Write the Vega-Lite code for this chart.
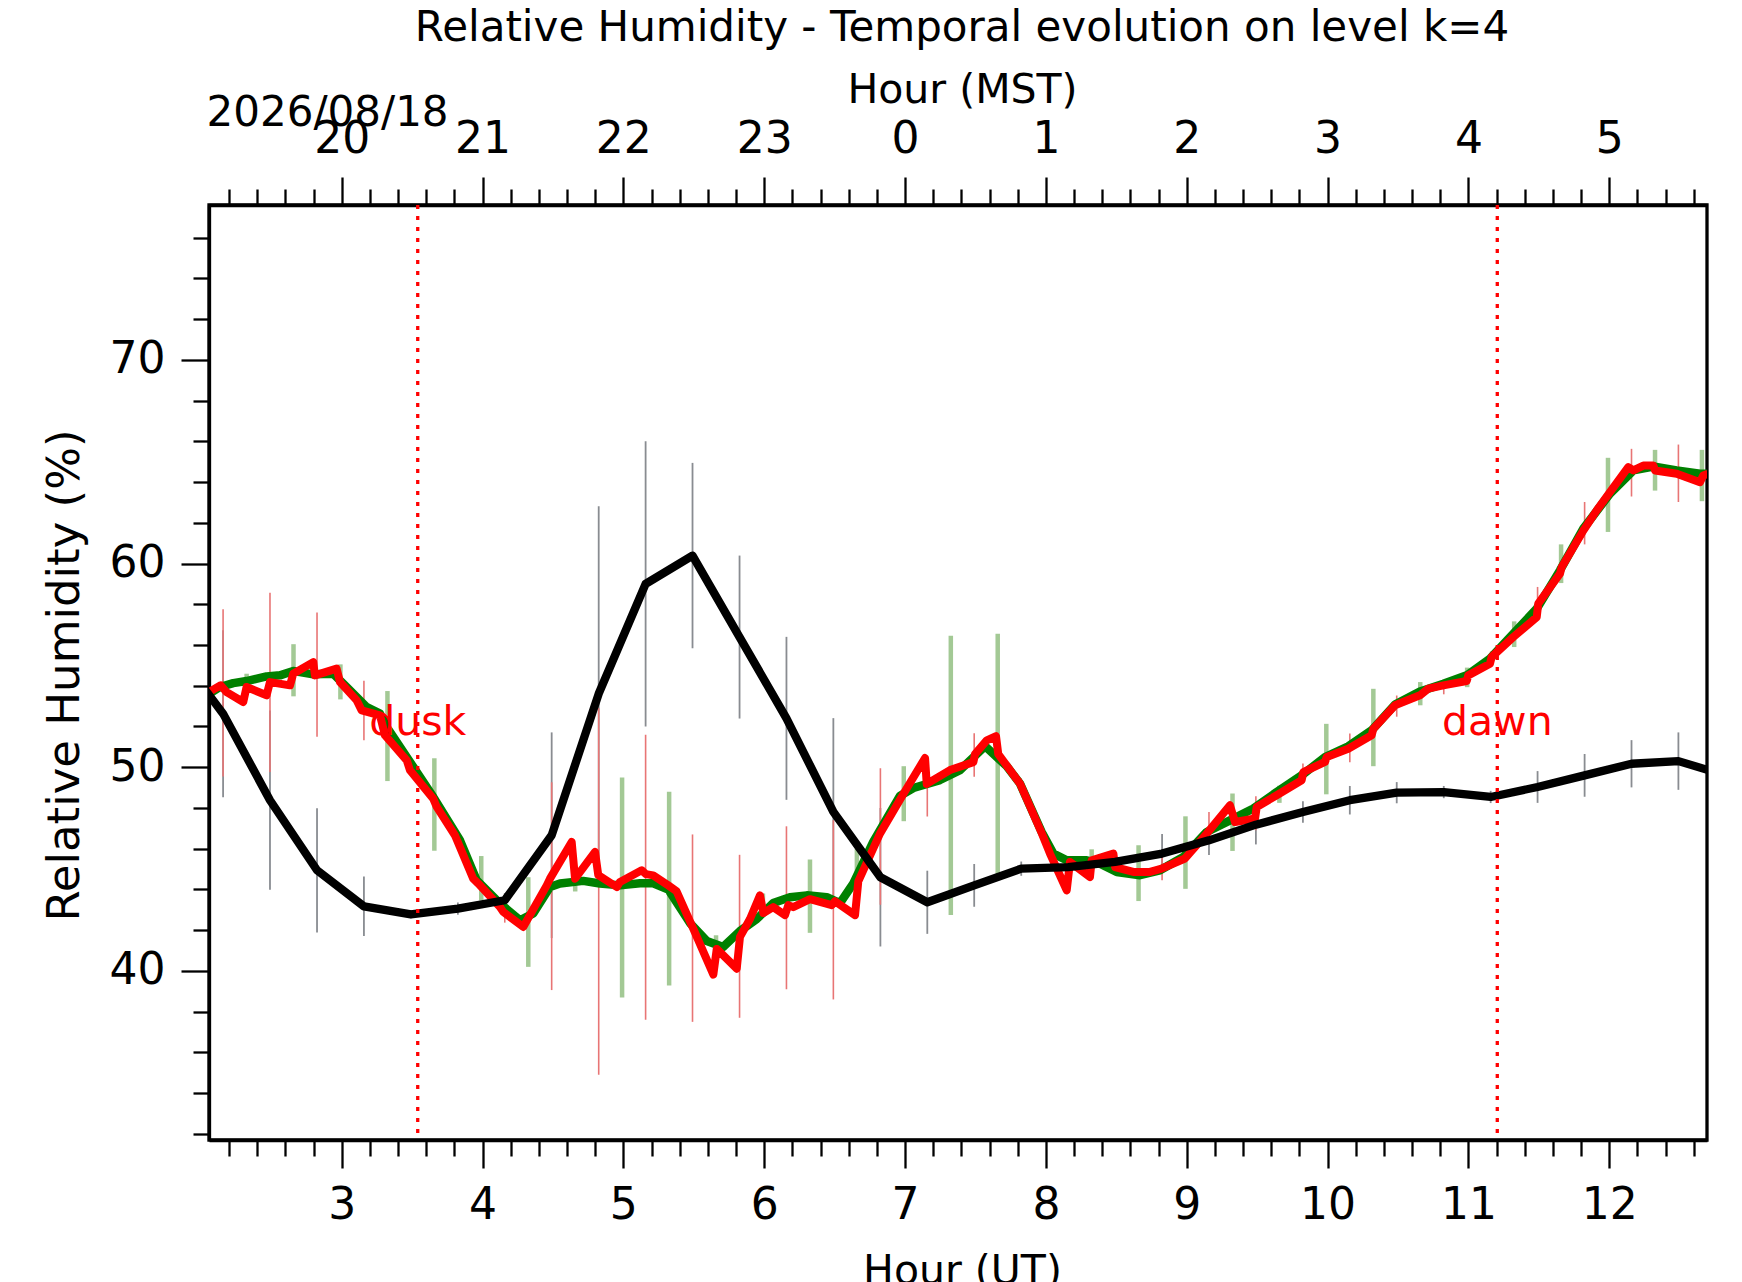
{
  "$schema": "https://vega.github.io/schema/vega-lite/v6.json",
  "width": 1498,
  "height": 935,
  "autosize": {"type": "none"},
  "padding": {"left": 209, "top": 205, "right": 35, "bottom": 142},
  "background": "white",
  "title": {
    "text": "Relative Humidity - Temporal evolution on level k=4",
    "font": "DejaVu Sans",
    "fontSize": 42,
    "fontWeight": "normal",
    "color": "black",
    "anchor": "middle",
    "baseline": "alphabetic",
    "offset": -14,
    "dx": 4
  },
  "config": {
    "view": {"stroke": "black", "strokeWidth": 3.3},
    "axis": {
      "grid": false,
      "labelFont": "DejaVu Sans",
      "titleFont": "DejaVu Sans",
      "labelColor": "black",
      "titleColor": "black",
      "titleFontWeight": "normal",
      "tickColor": "black",
      "tickWidth": 2.3,
      "domainColor": "black",
      "domainWidth": 3.3,
      "labelFontSize": 44,
      "labelOverlap": false,
      "labelFlush": false
    }
  },
  "datasets": {
    "model": [
      {"ut": 1.825, "rh": 55.7}, {"ut": 2.158, "rh": 52.63}, {"ut": 2.491, "rh": 48.38},
      {"ut": 2.825, "rh": 44.94}, {"ut": 3.158, "rh": 43.17}, {"ut": 3.491, "rh": 42.78},
      {"ut": 3.825, "rh": 43.06}, {"ut": 4.158, "rh": 43.47}, {"ut": 4.491, "rh": 46.66},
      {"ut": 4.825, "rh": 53.61}, {"ut": 5.158, "rh": 59.0}, {"ut": 5.491, "rh": 60.39},
      {"ut": 5.825, "rh": 56.39}, {"ut": 6.158, "rh": 52.4}, {"ut": 6.491, "rh": 47.81},
      {"ut": 6.825, "rh": 44.6}, {"ut": 7.158, "rh": 43.37}, {"ut": 7.491, "rh": 44.2},
      {"ut": 7.825, "rh": 45.02}, {"ut": 8.158, "rh": 45.1}, {"ut": 8.491, "rh": 45.35},
      {"ut": 8.825, "rh": 45.76}, {"ut": 9.158, "rh": 46.41}, {"ut": 9.491, "rh": 47.18},
      {"ut": 9.825, "rh": 47.8}, {"ut": 10.158, "rh": 48.38}, {"ut": 10.491, "rh": 48.75},
      {"ut": 10.825, "rh": 48.78}, {"ut": 11.158, "rh": 48.54}, {"ut": 11.491, "rh": 49.03},
      {"ut": 11.825, "rh": 49.6}, {"ut": 12.158, "rh": 50.17}, {"ut": 12.491, "rh": 50.3},
      {"ut": 12.825, "rh": 49.6}
    ],
    "model_err": [
      {"ut": 2.158, "lo": 48.53, "hi": 56.73}, {"ut": 2.491, "lo": 43.98, "hi": 52.78},
      {"ut": 2.825, "lo": 41.89, "hi": 47.99}, {"ut": 3.158, "lo": 41.71, "hi": 44.63},
      {"ut": 3.491, "lo": 42.58, "hi": 42.98}, {"ut": 3.825, "lo": 42.76, "hi": 43.36},
      {"ut": 4.158, "lo": 43.12, "hi": 43.82}, {"ut": 4.491, "lo": 41.61, "hi": 51.71},
      {"ut": 4.825, "lo": 44.41, "hi": 62.81}, {"ut": 5.158, "lo": 52.0, "hi": 66.0},
      {"ut": 5.491, "lo": 55.84, "hi": 64.94}, {"ut": 5.825, "lo": 52.39, "hi": 60.39},
      {"ut": 6.158, "lo": 48.4, "hi": 56.4}, {"ut": 6.491, "lo": 43.21, "hi": 52.41},
      {"ut": 6.825, "lo": 41.2, "hi": 48.0}, {"ut": 7.158, "lo": 41.82, "hi": 44.92},
      {"ut": 7.491, "lo": 43.15, "hi": 45.25}, {"ut": 7.825, "lo": 44.67, "hi": 45.37},
      {"ut": 8.158, "lo": 44.8, "hi": 45.4}, {"ut": 8.491, "lo": 44.95, "hi": 45.75},
      {"ut": 8.825, "lo": 44.8, "hi": 46.72}, {"ut": 9.158, "lo": 45.69, "hi": 47.13},
      {"ut": 9.491, "lo": 46.21, "hi": 48.15}, {"ut": 9.825, "lo": 47.27, "hi": 48.33},
      {"ut": 10.158, "lo": 47.68, "hi": 49.08}, {"ut": 10.491, "lo": 48.23, "hi": 49.27},
      {"ut": 10.825, "lo": 48.48, "hi": 49.08}, {"ut": 11.158, "lo": 48.24, "hi": 48.84},
      {"ut": 11.491, "lo": 48.25, "hi": 49.81}, {"ut": 11.825, "lo": 48.55, "hi": 50.65},
      {"ut": 12.158, "lo": 49.01, "hi": 51.33}, {"ut": 12.491, "lo": 48.89, "hi": 51.71}
    ],
    "obs_err": [
      {"ut": 2.158, "lo": 49.55, "hi": 57.75}, {"ut": 2.491, "lo": 49.77, "hi": 58.57},
      {"ut": 2.825, "lo": 51.49, "hi": 57.59}, {"ut": 3.158, "lo": 51.33, "hi": 54.25},
      {"ut": 3.491, "lo": 49.6, "hi": 50.0}, {"ut": 3.825, "lo": 46.1, "hi": 46.7},
      {"ut": 4.158, "lo": 42.37, "hi": 43.23}, {"ut": 4.491, "lo": 39.06, "hi": 49.26},
      {"ut": 4.825, "lo": 34.9, "hi": 52.9}, {"ut": 5.158, "lo": 37.6, "hi": 51.6},
      {"ut": 5.491, "lo": 37.5, "hi": 46.7}, {"ut": 5.825, "lo": 37.7, "hi": 45.7},
      {"ut": 6.158, "lo": 39.1, "hi": 47.1}, {"ut": 6.491, "lo": 38.6, "hi": 47.4},
      {"ut": 6.825, "lo": 43.25, "hi": 49.95}, {"ut": 7.158, "lo": 47.58, "hi": 50.02},
      {"ut": 7.491, "lo": 49.53, "hi": 51.67}, {"ut": 7.825, "lo": 48.75, "hi": 49.45},
      {"ut": 8.158, "lo": 44.3, "hi": 44.9}, {"ut": 8.491, "lo": 44.9, "hi": 45.7},
      {"ut": 8.825, "lo": 44.45, "hi": 45.59}, {"ut": 9.158, "lo": 46.5, "hi": 47.8},
      {"ut": 9.491, "lo": 46.91, "hi": 48.57}, {"ut": 9.825, "lo": 49.36, "hi": 50.18},
      {"ut": 10.158, "lo": 50.25, "hi": 51.65}, {"ut": 10.491, "lo": 52.48, "hi": 53.52},
      {"ut": 10.825, "lo": 53.58, "hi": 54.26}, {"ut": 11.158, "lo": 54.98, "hi": 55.68},
      {"ut": 11.491, "lo": 57.85, "hi": 58.85}, {"ut": 11.825, "lo": 60.94, "hi": 63.02},
      {"ut": 12.158, "lo": 63.29, "hi": 65.63}, {"ut": 12.491, "lo": 63.02, "hi": 65.84}
    ],
    "smooth_err": [
      {"ut": 2.325, "lo": 53.87, "hi": 54.59}, {"ut": 2.658, "lo": 53.48, "hi": 56.04},
      {"ut": 2.991, "lo": 53.33, "hi": 55.05}, {"ut": 3.325, "lo": 49.32, "hi": 53.74},
      {"ut": 3.658, "lo": 45.9, "hi": 50.44}, {"ut": 3.991, "lo": 43.46, "hi": 45.64},
      {"ut": 4.325, "lo": 40.2, "hi": 44.6}, {"ut": 4.658, "lo": 43.9, "hi": 44.7},
      {"ut": 4.991, "lo": 38.7, "hi": 49.5}, {"ut": 5.325, "lo": 39.29, "hi": 48.79},
      {"ut": 5.658, "lo": 41.05, "hi": 41.75}, {"ut": 5.991, "lo": 42.8, "hi": 43.8},
      {"ut": 6.325, "lo": 41.87, "hi": 45.47}, {"ut": 6.658, "lo": 44.0, "hi": 46.0},
      {"ut": 6.991, "lo": 47.35, "hi": 50.05}, {"ut": 7.325, "lo": 42.75, "hi": 56.45},
      {"ut": 7.658, "lo": 44.65, "hi": 56.55}, {"ut": 7.991, "lo": 46.3, "hi": 46.7},
      {"ut": 8.325, "lo": 44.69, "hi": 45.97}, {"ut": 8.658, "lo": 43.43, "hi": 46.17},
      {"ut": 8.991, "lo": 44.03, "hi": 47.59}, {"ut": 9.325, "lo": 45.89, "hi": 48.71},
      {"ut": 9.658, "lo": 48.25, "hi": 49.09}, {"ut": 9.991, "lo": 48.67, "hi": 52.13},
      {"ut": 10.325, "lo": 50.05, "hi": 53.85}, {"ut": 10.658, "lo": 53.04, "hi": 54.18},
      {"ut": 10.991, "lo": 53.93, "hi": 54.89}, {"ut": 11.325, "lo": 55.9, "hi": 57.16},
      {"ut": 11.658, "lo": 59.04, "hi": 60.94}, {"ut": 11.991, "lo": 61.55, "hi": 65.19},
      {"ut": 12.325, "lo": 63.58, "hi": 65.58}, {"ut": 12.658, "lo": 63.06, "hi": 65.58}
    ],
    "obs": [
      {"ut": 2.06, "rh": 53.7}, {"ut": 2.141, "rh": 54.02}, {"ut": 2.183, "rh": 53.69},
      {"ut": 2.301, "rh": 53.2}, {"ut": 2.325, "rh": 53.94}, {"ut": 2.467, "rh": 53.53},
      {"ut": 2.491, "rh": 54.18}, {"ut": 2.633, "rh": 54.02}, {"ut": 2.656, "rh": 54.59},
      {"ut": 2.798, "rh": 55.16}, {"ut": 2.81, "rh": 54.51}, {"ut": 2.964, "rh": 54.84},
      {"ut": 2.988, "rh": 54.18}, {"ut": 3.107, "rh": 53.28}, {"ut": 3.142, "rh": 52.79},
      {"ut": 3.272, "rh": 52.55}, {"ut": 3.307, "rh": 51.57}, {"ut": 3.462, "rh": 50.34},
      {"ut": 3.485, "rh": 49.85}, {"ut": 3.65, "rh": 48.46}, {"ut": 3.675, "rh": 48.05},
      {"ut": 3.804, "rh": 46.66}, {"ut": 3.934, "rh": 44.53}, {"ut": 3.97, "rh": 44.29},
      {"ut": 4.124, "rh": 43.14}, {"ut": 4.147, "rh": 42.9}, {"ut": 4.289, "rh": 42.16},
      {"ut": 4.456, "rh": 44.2}, {"ut": 4.479, "rh": 44.53}, {"ut": 4.633, "rh": 46.33},
      {"ut": 4.657, "rh": 44.53}, {"ut": 4.799, "rh": 45.84}, {"ut": 4.822, "rh": 44.7},
      {"ut": 4.953, "rh": 44.12}, {"ut": 4.976, "rh": 44.37}, {"ut": 5.13, "rh": 44.94},
      {"ut": 5.16, "rh": 44.75}, {"ut": 5.212, "rh": 44.69}, {"ut": 5.319, "rh": 44.2},
      {"ut": 5.378, "rh": 43.91}, {"ut": 5.497, "rh": 42.06}, {"ut": 5.639, "rh": 39.82},
      {"ut": 5.663, "rh": 41.08}, {"ut": 5.805, "rh": 40.11}, {"ut": 5.828, "rh": 41.67},
      {"ut": 5.899, "rh": 42.55}, {"ut": 5.97, "rh": 43.71}, {"ut": 5.994, "rh": 42.84},
      {"ut": 6.064, "rh": 43.13}, {"ut": 6.148, "rh": 42.74}, {"ut": 6.171, "rh": 43.23},
      {"ut": 6.206, "rh": 43.13}, {"ut": 6.325, "rh": 43.52}, {"ut": 6.479, "rh": 43.23},
      {"ut": 6.502, "rh": 43.42}, {"ut": 6.645, "rh": 42.74}, {"ut": 6.668, "rh": 44.4},
      {"ut": 6.822, "rh": 46.74}, {"ut": 6.988, "rh": 48.69}, {"ut": 7.142, "rh": 50.45},
      {"ut": 7.154, "rh": 49.18}, {"ut": 7.319, "rh": 49.86}, {"ut": 7.485, "rh": 50.25},
      {"ut": 7.497, "rh": 50.64}, {"ut": 7.58, "rh": 51.32}, {"ut": 7.646, "rh": 51.52},
      {"ut": 7.662, "rh": 50.64}, {"ut": 7.816, "rh": 49.2}, {"ut": 7.97, "rh": 46.77},
      {"ut": 8.029, "rh": 45.76}, {"ut": 8.148, "rh": 43.96}, {"ut": 8.171, "rh": 45.35},
      {"ut": 8.313, "rh": 44.61}, {"ut": 8.325, "rh": 45.43}, {"ut": 8.479, "rh": 45.76},
      {"ut": 8.491, "rh": 45.1}, {"ut": 8.621, "rh": 44.86}, {"ut": 8.739, "rh": 44.86},
      {"ut": 8.822, "rh": 45.02}, {"ut": 8.988, "rh": 45.52}, {"ut": 9.142, "rh": 46.74},
      {"ut": 9.307, "rh": 48.13}, {"ut": 9.343, "rh": 47.31}, {"ut": 9.485, "rh": 47.48},
      {"ut": 9.497, "rh": 48.05}, {"ut": 9.639, "rh": 48.62}, {"ut": 9.816, "rh": 49.36},
      {"ut": 9.828, "rh": 49.76}, {"ut": 9.982, "rh": 50.26}, {"ut": 9.994, "rh": 50.5},
      {"ut": 10.147, "rh": 50.91}, {"ut": 10.313, "rh": 51.57}, {"ut": 10.325, "rh": 51.89},
      {"ut": 10.479, "rh": 53.04}, {"ut": 10.656, "rh": 53.53}, {"ut": 10.715, "rh": 53.86},
      {"ut": 10.822, "rh": 54.02}, {"ut": 10.988, "rh": 54.23}, {"ut": 10.999, "rh": 54.51},
      {"ut": 11.153, "rh": 55.08}, {"ut": 11.165, "rh": 55.41}, {"ut": 11.319, "rh": 56.39},
      {"ut": 11.485, "rh": 57.37}, {"ut": 11.496, "rh": 58.03}, {"ut": 11.65, "rh": 59.5},
      {"ut": 11.662, "rh": 59.82}, {"ut": 11.816, "rh": 61.62}, {"ut": 11.911, "rh": 62.61},
      {"ut": 12.005, "rh": 63.5}, {"ut": 12.135, "rh": 64.73}, {"ut": 12.171, "rh": 64.57},
      {"ut": 12.242, "rh": 64.81}, {"ut": 12.313, "rh": 64.81}, {"ut": 12.325, "rh": 64.57},
      {"ut": 12.479, "rh": 64.41}, {"ut": 12.644, "rh": 63.99}, {"ut": 12.667, "rh": 64.32},
      {"ut": 12.7, "rh": 64.4}
    ],
    "smooth": [
      {"ut": 2.058, "rh": 53.6}, {"ut": 2.136, "rh": 53.94}, {"ut": 2.23, "rh": 54.13},
      {"ut": 2.325, "rh": 54.23}, {"ut": 2.467, "rh": 54.46}, {"ut": 2.562, "rh": 54.51},
      {"ut": 2.656, "rh": 54.72}, {"ut": 2.704, "rh": 54.67}, {"ut": 2.798, "rh": 54.56},
      {"ut": 2.94, "rh": 54.59}, {"ut": 3.035, "rh": 53.94}, {"ut": 3.178, "rh": 52.95},
      {"ut": 3.272, "rh": 52.63}, {"ut": 3.32, "rh": 51.97}, {"ut": 3.462, "rh": 50.5},
      {"ut": 3.65, "rh": 48.54}, {"ut": 3.84, "rh": 46.41}, {"ut": 3.959, "rh": 44.45},
      {"ut": 4.124, "rh": 43.31}, {"ut": 4.266, "rh": 42.49}, {"ut": 4.36, "rh": 42.82},
      {"ut": 4.479, "rh": 44.12}, {"ut": 4.55, "rh": 44.29}, {"ut": 4.715, "rh": 44.42},
      {"ut": 4.834, "rh": 44.29}, {"ut": 4.976, "rh": 44.2}, {"ut": 5.118, "rh": 44.3},
      {"ut": 5.212, "rh": 44.3}, {"ut": 5.319, "rh": 44.0}, {"ut": 5.473, "rh": 42.35},
      {"ut": 5.592, "rh": 41.47}, {"ut": 5.709, "rh": 41.18}, {"ut": 5.828, "rh": 41.96},
      {"ut": 5.947, "rh": 42.55}, {"ut": 6.064, "rh": 43.33}, {"ut": 6.183, "rh": 43.62},
      {"ut": 6.302, "rh": 43.71}, {"ut": 6.444, "rh": 43.62}, {"ut": 6.538, "rh": 43.33},
      {"ut": 6.633, "rh": 44.3}, {"ut": 6.775, "rh": 46.35}, {"ut": 6.964, "rh": 48.59},
      {"ut": 7.059, "rh": 48.98}, {"ut": 7.248, "rh": 49.37}, {"ut": 7.39, "rh": 49.86},
      {"ut": 7.568, "rh": 51.03}, {"ut": 7.722, "rh": 50.05}, {"ut": 7.816, "rh": 49.2},
      {"ut": 7.97, "rh": 46.82}, {"ut": 8.053, "rh": 45.76}, {"ut": 8.148, "rh": 45.43},
      {"ut": 8.29, "rh": 45.43}, {"ut": 8.384, "rh": 45.27}, {"ut": 8.503, "rh": 44.86},
      {"ut": 8.668, "rh": 44.7}, {"ut": 8.81, "rh": 44.94}, {"ut": 8.976, "rh": 45.59},
      {"ut": 9.142, "rh": 46.82}, {"ut": 9.307, "rh": 47.39}, {"ut": 9.473, "rh": 47.97},
      {"ut": 9.639, "rh": 48.78}, {"ut": 9.816, "rh": 49.6}, {"ut": 9.982, "rh": 50.5},
      {"ut": 10.147, "rh": 51.03}, {"ut": 10.313, "rh": 51.81}, {"ut": 10.479, "rh": 53.08},
      {"ut": 10.656, "rh": 53.72}, {"ut": 10.822, "rh": 54.1}, {"ut": 10.988, "rh": 54.51},
      {"ut": 11.153, "rh": 55.33}, {"ut": 11.319, "rh": 56.56}, {"ut": 11.485, "rh": 57.78},
      {"ut": 11.65, "rh": 59.66}, {"ut": 11.816, "rh": 61.71}, {"ut": 12.005, "rh": 63.43},
      {"ut": 12.171, "rh": 64.57}, {"ut": 12.313, "rh": 64.76}, {"ut": 12.479, "rh": 64.57},
      {"ut": 12.644, "rh": 64.41}, {"ut": 12.7, "rh": 64.41}
    ],
    "sun": [
      {"ut": 3.54, "rh": 51.6, "label": "dusk"},
      {"ut": 11.205, "rh": 51.6, "label": "dawn"}
    ]
  },
  "resolve": {"axis": {"x": "independent", "y": "independent"}},
  "layer": [
    {
      "data": {"name": "smooth_err"},
      "mark": {"type": "rule", "color": "#a3c995", "strokeWidth": 4.5, "clip": true},
      "encoding": {
        "x": {
          "field": "ut", "type": "quantitative",
          "scale": {"domain": [2.058, 12.694], "nice": false, "zero": false},
          "axis": {
            "orient": "bottom", "values": [3, 4, 5, 6, 7, 8, 9, 10, 11, 12], "format": "d",
            "tickSize": 28, "labelPadding": 50, "labelBaseline": "alphabetic",
            "title": "Hour (UT)", "titleFontSize": 41, "titleX": 753, "titleY": 143,
            "titleAlign": "center", "titleBaseline": "alphabetic"
          }
        },
        "y": {
          "field": "lo", "type": "quantitative",
          "scale": {"domain": [31.7, 77.6], "nice": false, "zero": false},
          "axis": {
            "orient": "left", "values": [40, 50, 60, 70],
            "tickSize": 28, "labelPadding": 16, "labelBaseline": "middle",
            "title": "Relative Humidity (%)", "titleFontSize": 45, "titleAngle": -90,
            "titleX": -131, "titleY": 470, "titleAlign": "center", "titleBaseline": "alphabetic"
          }
        },
        "y2": {"field": "hi"}
      }
    },
    {
      "data": {"name": "model_err"},
      "mark": {"type": "rule", "color": "#898c91", "strokeWidth": 1.8, "clip": true},
      "encoding": {
        "x": {
          "field": "ut", "type": "quantitative",
          "axis": {
            "orient": "bottom", "domain": false, "labels": false, "tickSize": 16, "title": null,
            "values": [2.2, 2.4, 2.6, 2.8, 3.2, 3.4, 3.6, 3.8, 4.2, 4.4, 4.6, 4.8, 5.2, 5.4, 5.6, 5.8, 6.2, 6.4, 6.6, 6.8, 7.2, 7.4, 7.6, 7.8, 8.2, 8.4, 8.6, 8.8, 9.2, 9.4, 9.6, 9.8, 10.2, 10.4, 10.6, 10.8, 11.2, 11.4, 11.6, 11.8, 12.2, 12.4, 12.6]
          }
        },
        "y": {
          "field": "lo", "type": "quantitative",
          "axis": {
            "orient": "left", "domain": false, "labels": false, "tickSize": 16, "title": null,
            "values": [32, 34, 36, 38, 42, 44, 46, 48, 52, 54, 56, 58, 62, 64, 66, 68, 72, 74, 76]
          }
        },
        "y2": {"field": "hi"}
      }
    },
    {
      "data": {"name": "obs_err"},
      "mark": {"type": "rule", "color": "#e87575", "strokeWidth": 1.6, "clip": true},
      "encoding": {
        "x": {
          "field": "ut", "type": "quantitative",
          "axis": {
            "orient": "top", "values": [3, 4, 5, 6, 7, 8, 9, 10, 11, 12],
            "labelExpr": "(datum.value + 17) % 24",
            "tickSize": 28, "labelPadding": 25, "labelBaseline": "alphabetic",
            "title": "Hour (MST)", "titleFontSize": 41, "titleX": 753, "titleY": -103,
            "titleAlign": "center", "titleBaseline": "alphabetic"
          }
        },
        "y": {"field": "lo", "type": "quantitative", "axis": null},
        "y2": {"field": "hi"}
      }
    },
    {
      "data": {"name": "smooth"},
      "mark": {"type": "line", "color": "#008000", "strokeWidth": 8.5, "strokeJoin": "round", "clip": true},
      "encoding": {
        "x": {
          "field": "ut", "type": "quantitative",
          "axis": {
            "orient": "top", "domain": false, "labels": false, "tickSize": 16,
            "values": [2.2, 2.4, 2.6, 2.8, 3.2, 3.4, 3.6, 3.8, 4.2, 4.4, 4.6, 4.8, 5.2, 5.4, 5.6, 5.8, 6.2, 6.4, 6.6, 6.8, 7.2, 7.4, 7.6, 7.8, 8.2, 8.4, 8.6, 8.8, 9.2, 9.4, 9.6, 9.8, 10.2, 10.4, 10.6, 10.8, 11.2, 11.4, 11.6, 11.8, 12.2, 12.4, 12.6],
            "title": "2026/08/18", "titleFontSize": 42, "titleX": -3, "titleY": -80,
            "titleAlign": "left", "titleBaseline": "alphabetic"
          }
        },
        "y": {"field": "rh", "type": "quantitative", "axis": null}
      }
    },
    {
      "data": {"name": "obs"},
      "mark": {"type": "line", "color": "#ff0000", "strokeWidth": 8, "strokeJoin": "round", "clip": true},
      "encoding": {
        "x": {"field": "ut", "type": "quantitative", "axis": null},
        "y": {"field": "rh", "type": "quantitative", "axis": null}
      }
    },
    {
      "data": {"name": "model"},
      "mark": {"type": "line", "color": "black", "strokeWidth": 8.3, "strokeJoin": "round", "clip": true},
      "encoding": {
        "x": {"field": "ut", "type": "quantitative", "axis": null},
        "y": {"field": "rh", "type": "quantitative", "axis": null}
      }
    },
    {
      "data": {"name": "sun"},
      "mark": {"type": "rule", "color": "#ff0000", "strokeWidth": 3.3, "strokeDash": [4, 7]},
      "encoding": {
        "x": {"field": "ut", "type": "quantitative", "axis": null}
      }
    },
    {
      "data": {"name": "sun"},
      "mark": {"type": "text", "color": "#ff0000", "font": "DejaVu Sans", "fontSize": 41, "align": "center", "baseline": "alphabetic"},
      "encoding": {
        "x": {"field": "ut", "type": "quantitative", "axis": null},
        "y": {"field": "rh", "type": "quantitative", "axis": null},
        "text": {"field": "label"}
      }
    }
  ]
}
